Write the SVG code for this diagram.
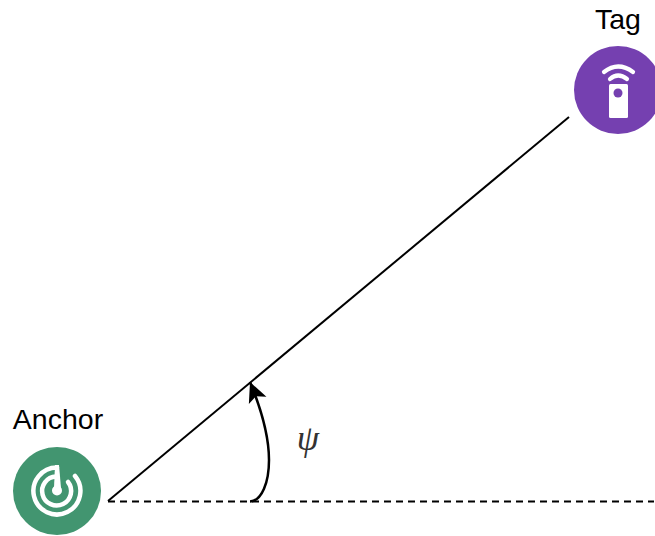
<svg xmlns="http://www.w3.org/2000/svg" width="655" height="536" viewBox="0 0 655 536">
<defs>
<style>
.label{font-family:"Liberation Sans",Arial,sans-serif;font-size:28.500px;fill:#000}
.line{fill:none;stroke:#000;stroke-width:2}
.dash{stroke-dasharray:7 5}
.curve{stroke-width:2.500}
.ico{fill:none;stroke:#fff;stroke-linecap:round}
</style>
<marker id="arrow" markerUnits="userSpaceOnUse" markerWidth="22" markerHeight="22" viewBox="0 -11 22 22" refX="20" refY="0" orient="auto">
<path d="M20 0L0 -9.500L4.500 0L0 9.500Z" fill="#000"/>
</marker>
</defs>
<rect width="655" height="536" fill="#fff"/>
<g id="connectors">
<path class="line" d="M108 501L569 117"/>
<path class="line dash" d="M108 501.500H654"/>
<path class="line curve" marker-end="url(#arrow)" d="M250 501.500C262 501 269 482 269 460C269 435 262 411 250 382"/>
</g>
<g id="tag">
<circle cx="618" cy="90" r="44" fill="#7540b0"/>
<path class="ico" stroke-width="4.200" d="M604 72Q618 61 633 72"/>
<path class="ico" stroke-width="4.200" d="M610 79Q618 72 627 79"/>
<rect x="609" y="84" width="19" height="34" rx="1.500" fill="#fff"/>
<circle cx="618" cy="93" r="4.500" fill="#7540b0"/>
<text class="label" x="618" y="29" text-anchor="middle">Tag</text>
</g>
<g id="anchor">
<circle cx="57" cy="491" r="44" fill="#429570"/>
<path class="ico" stroke-width="4.500" d="M57 467.500A23.500 23.500 0 1 0 75 476"/>
<path class="ico" stroke-width="4.500" d="M56 476.500A14.500 14.500 0 1 0 68 482"/>
<path fill="#fff" d="M55 465H59L61 488H54Z"/>
<circle cx="57" cy="490.500" r="5" fill="#fff"/>
<text class="label" x="58" y="429" text-anchor="middle">Anchor</text>
</g>
<g id="angle">
<text x="308" y="450" text-anchor="middle" font-family="'Liberation Serif','Times New Roman',serif" font-style="italic" font-size="36" fill="#333">ψ</text>
</g>
</svg>
